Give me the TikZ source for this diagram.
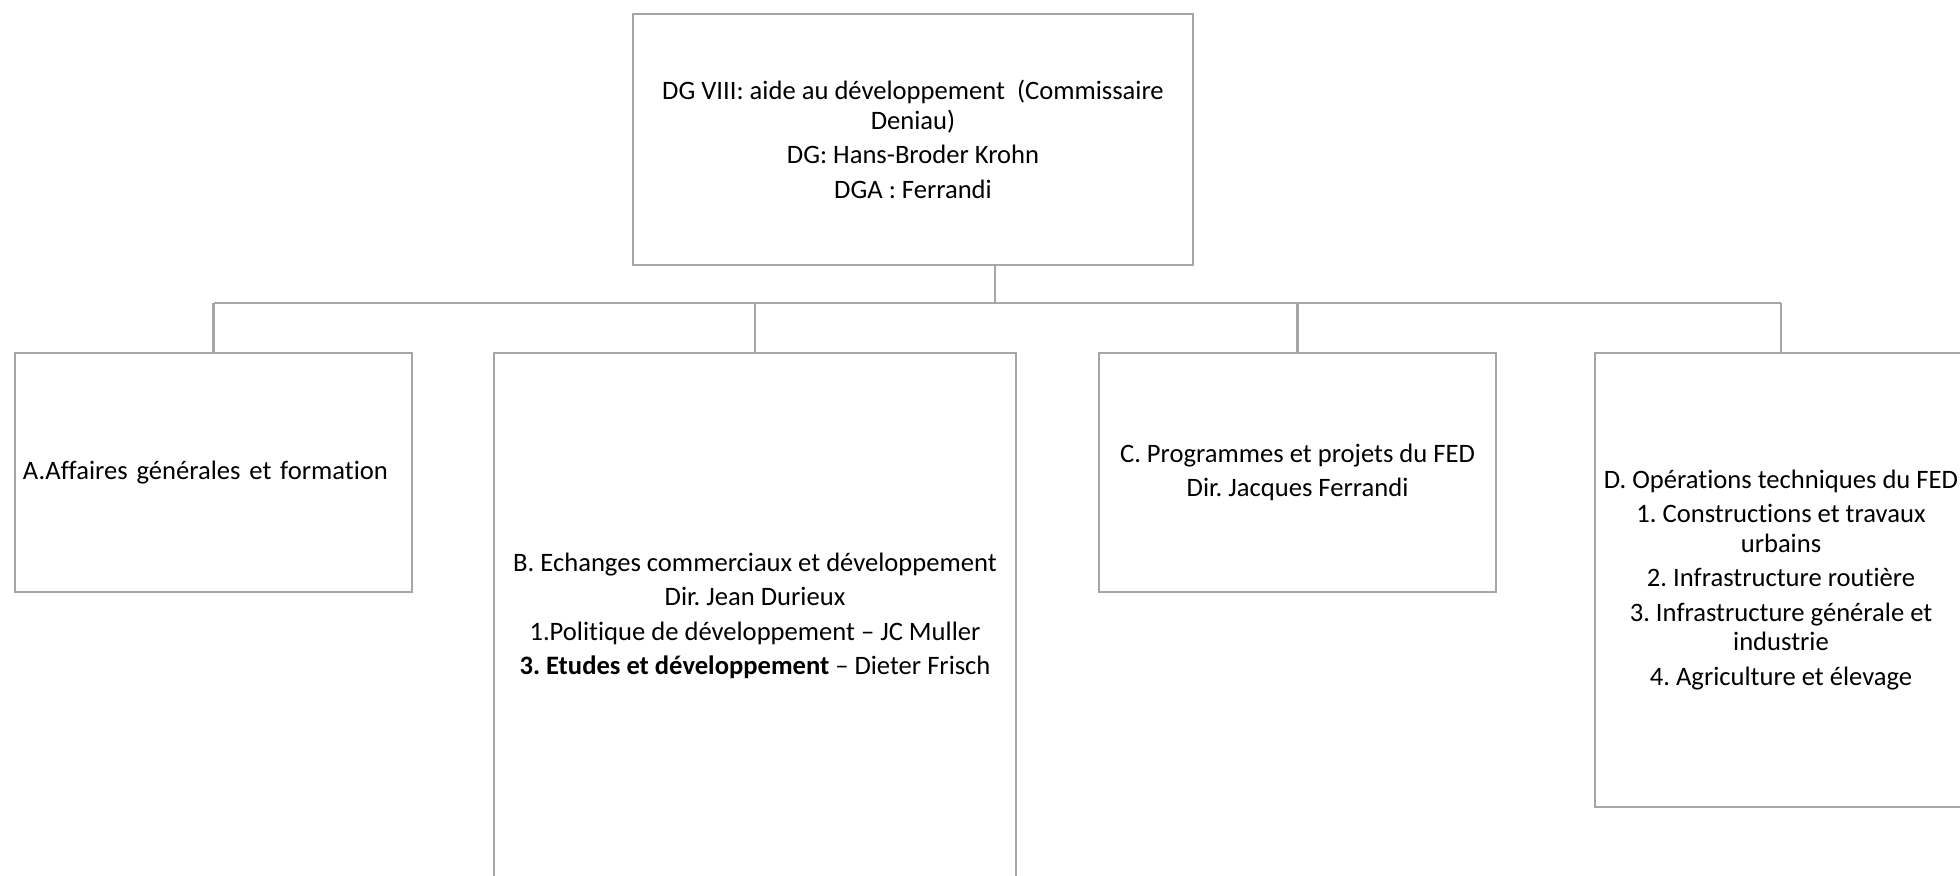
\documentclass[tikz,border=0pt]{standalone}
\usepackage{fontspec}
\setmainfont{Carlito}[Ligatures={TeX,NoCommon}]
\frenchspacing
\definecolor{boxgray}{RGB}{166,166,166}
\tikzset{
    orgbox/.style={draw=boxgray, line width=1.3pt, align=center, inner sep=0pt, text=black,
        font={\fontsize{13.3pt}{14.75pt}\selectfont}},
    link/.style={draw=boxgray, line width=1.3pt}
}

\begin{document}
\begin{tikzpicture}[x=0.5pt, y=-0.5pt]
            \useasboundingbox (0,0) rectangle (1960,875);
            \node[orgbox, minimum width=280pt, minimum height=125.5pt] (dg) at (913,139.5)
                {DG VIII: aide au développement~~(Commissaire\\Deniau)\\[2.5pt]DG: Hans-Broder Krohn\\[2.5pt]DGA : Ferrandi};
            \node[orgbox, minimum width=198.5pt, minimum height=119.5pt, align=left, text width=190.5pt, inner xsep=4pt] (a) at (213.5,472.5)
                {A.Affaires générales et formation};
            \node[orgbox, minimum width=261pt, minimum height=263pt] (b) at (755,616)
                {B. Echanges commerciaux et développement\\[2.5pt]Dir. Jean Durieux\\[2.5pt]1.Politique de développement – JC Muller\\[2.5pt]\textbf{3. Etudes et développement} – Dieter Frisch};
            \node[orgbox, minimum width=198.5pt, minimum height=119.5pt] (c) at (1297.5,472.5)
                {C. Programmes et projets du FED\\[2.5pt]Dir. Jacques Ferrandi};
            \node[orgbox, minimum width=186pt, minimum height=227pt] (d) at (1781,580)
                {D. Opérations techniques du FED\\[2.5pt]1. Constructions et travaux\\urbains\\[2.5pt]2. Infrastructure routière\\[2.5pt]3. Infrastructure générale et\\industrie\\[2.5pt]4. Agriculture et élevage};
            \coordinate (bus) at (995,303);
            \draw[link] (dg.south -| bus) -- (bus);
            \draw[link] (a.north |- bus) -- (d.north |- bus);
            \foreach \n in {a,b,c,d}
                \draw[link] (\n.north |- bus) -- (\n.north);
        \end{tikzpicture}
\end{document}
